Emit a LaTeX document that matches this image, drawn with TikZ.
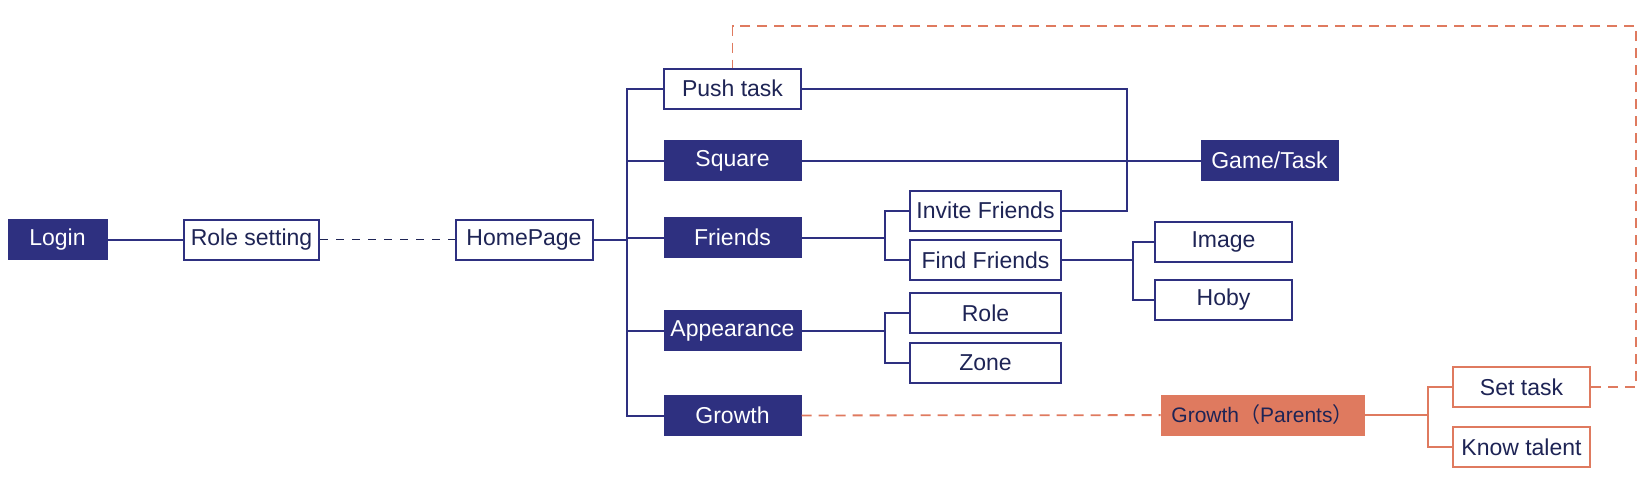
\documentclass[tikz,border=0pt]{standalone}
\usepackage{fontspec}
\setmainfont{Liberation Sans}
\newfontfamily\cjk{Noto Sans CJK SC}
\usepackage{tikz}
\usetikzlibrary{calc}
\usetikzlibrary{positioning}
\definecolor{navy}{RGB}{46,48,128}
\definecolor{ink}{RGB}{30,36,85}
\definecolor{coral}{RGB}{223,122,95}

\begin{document}
\begin{tikzpicture}[x=1pt,y=-1pt,
    every node/.style={font=\fontsize{23}{27}\selectfont, inner sep=0pt, minimum height=40pt, minimum width=137pt},
    darkbox/.style={fill=navy, draw=navy, line width=1pt, text=white},
    whitebox/.style={fill=white, draw=navy, line width=2pt, text=ink},
    parentbox/.style={fill=coral, draw=coral, line width=1pt, text=ink},
    taskbox/.style={fill=white, draw=coral, line width=2pt, text=ink},
    link/.style={navy, line width=2pt},
    dashlink/.style={ink, line width=1.2pt, dash pattern=on 8pt off 8pt},
    plink/.style={coral, line width=2pt},
    pdash/.style={coral, line width=1.8pt, dash pattern=on 10pt off 7pt}]
    \useasboundingbox (0,0) rectangle (1650,485);

    % left part
    \node[darkbox, minimum width=99pt] (login) at (57.5,239.5) {Login};
    \node[whitebox, minimum width=135pt] (role) at (251.5,239.5) {Role setting};
    \node[whitebox] (home) at (524,239.5) {HomePage};

    % main column
    \node[whitebox] (push) at (732.5,88.5) {Push task};
    \node[darkbox] (square) at (732.5,160.5) {Square};
    \node[darkbox] (friends) at (732.5,237.5) {Friends};
    \node[darkbox] (appear) at (732.5,330.5) {Appearance};
    \node[darkbox] (growth) at (732.5,415.5) {Growth};

    \node[whitebox, minimum width=151pt] (invite) at (985.5,210.5) {Invite Friends};
    \node[whitebox, minimum width=151pt] (find) at (985.5,260) {Find Friends};
    \node[whitebox, minimum width=151pt] (rolesub) at (985.5,313) {Role};
    \node[whitebox, minimum width=151pt] (zone) at (985.5,363) {Zone};

    \node[whitebox] (image) at (1223.5,241.5) {Image};
    \node[whitebox] (hoby) at (1223.5,300) {Hoby};
    \node[darkbox] (game) at (1269.5,160.5) {Game/Task};

    % parents side
    \node[parentbox, minimum width=203pt, font=\fontsize{21}{25}\selectfont] (parents) at (1262.5,415) {Growth{\cjk（}Parents{\cjk）}};
    \node[taskbox] (settask) at (1521.5,387) {Set task};
    \node[taskbox] (talent) at (1521.5,447) {Know talent};

    \coordinate (trunk) at (627,0);
    \coordinate (fj) at (885,0);
    \coordinate (ij) at (1133,0);
    \coordinate (pj) at (1127,0);
    \coordinate (gj) at (1428,0);
    \coordinate (looptop) at (1636,26);

    \draw[link] (login) -- (role);
    \draw[dashlink] (role) -- (home);
    \draw[link] (home.east) -- (home.east -| trunk);
    \draw[link] (push.west) -- (push.west -| trunk) -- (growth.west -| trunk) -- (growth.west);
    \foreach \n in {square,friends,appear}
        \draw[link] (\n.west) -- (\n.west -| trunk);

    \draw[link] (square) -- (game);
    \draw[link] (push.east) -- (push.east -| pj) -- (invite.east -| pj) -- (invite.east);

    \draw[link] (friends.east) -- (friends.east -| fj) |- (invite.west);
    \draw[link] (friends.east -| fj) |- (find.west);
    \draw[link] (appear.east) -- (appear.east -| fj) |- (rolesub.west);
    \draw[link] (appear.east -| fj) |- (zone.west);

    \draw[link] (find.east) -- (find.east -| ij) |- (image.west);
    \draw[link] (find.east -| ij) |- (hoby.west);

    \draw[pdash] (growth) -- (parents);
    \draw[plink] (parents.east) -- (parents.east -| gj) |- (settask.west);
    \draw[plink] (parents.east -| gj) |- (talent.west);
    \draw[pdash] (settask.east) -| (looptop) -| (push.north);
\end{tikzpicture}
\end{document}
